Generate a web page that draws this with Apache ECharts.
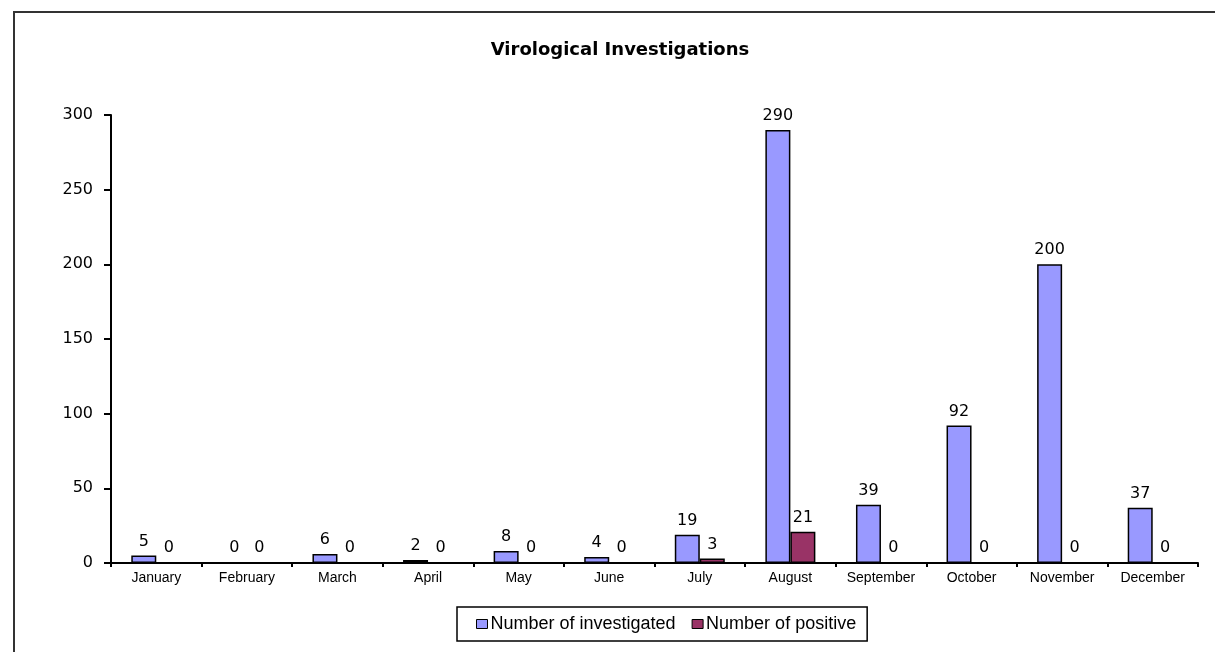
<!DOCTYPE html>
<html>
<head>
<meta charset="utf-8">
<script src="https://cdn.jsdelivr.net/npm/echarts@6/dist/echarts.min.js"></script>
<style>
  html, body { margin: 0; padding: 0; background: #fff; }
  #frame {
    position: absolute; left: 13px; top: 11px;
    width: 1300px; height: 700px;
    border: 2px solid #333;
  }
  #chart { position: absolute; left: 0; top: 0; width: 1215px; height: 652px; }
</style>
</head>
<body>
<div id="frame"></div>
<div id="chart"></div>
<script>
// ---- data ----
const months = ['January', 'February', 'March', 'April', 'May', 'June',
  'July', 'August', 'September', 'October', 'November', 'December']
const investigated = [5, 0, 6, 2, 8, 4, 19, 290, 39, 92, 200, 37]
const positive = [0, 0, 0, 0, 0, 0, 3, 21, 0, 0, 0, 0]
const yTicks = { min: 0, max: 300, step: 50 }

// the picture is a bit stretched sideways, DejaVu is wider than Arial
const WIDE = '"DejaVu Sans", sans-serif'
const ARIAL = '"Liberation Sans", Arial, sans-serif'

const chart = echarts.init(document.getElementById('chart'))

function barSeries(name, data, color) {
  return {
    name,
    type: 'bar',
    data,
    barWidth: 25,
    barGap: '0%',
    itemStyle: { color, borderColor: '#000', borderWidth: 1.5 },
    label: {
      show: true,
      position: 'top',
      distance: 6,
      color: '#000',
      fontFamily: WIDE,
      fontSize: 16,
    },
    animation: false,
  }
}

chart.setOption({
  backgroundColor: 'transparent',
  title: {
    text: 'Virological Investigations',
    left: 615,
    top: 36,
    textAlign: 'center',
    textStyle: { fontFamily: WIDE, fontSize: 18, fontWeight: 'bold', color: '#000' },
  },
  grid: { left: 111, right: 17, top: 115, bottom: 89, containLabel: false },
  legend: {
    left: 457,
    top: 607,
    width: 414,
    padding: [8, 11, 8, 19],
    itemGap: 16,
    itemWidth: 11,
    itemHeight: 9,
    icon: 'rect',
    borderColor: '#000',
    borderWidth: 1.5,
    itemStyle: { borderColor: '#000', borderWidth: 1 },
    textStyle: { fontFamily: ARIAL, fontSize: 18, color: '#000', padding: [0, 0, 0, -2] },
  },
  xAxis: {
    type: 'category',
    data: months,
    axisLine: { lineStyle: { color: '#000', width: 2 } },
    axisTick: { show: true, interval: 0, length: 4, lineStyle: { color: '#000', width: 2 } },
    axisLabel: { interval: 0, color: '#000', fontFamily: ARIAL, fontSize: 14, margin: 8 },
  },
  yAxis: {
    type: 'value',
    min: yTicks.min,
    max: yTicks.max,
    interval: yTicks.step,
    splitLine: { show: false },
    axisLine: { show: true, lineStyle: { color: '#000', width: 2 } },
    axisTick: { show: true, length: 7, lineStyle: { color: '#000', width: 2 } },
    axisLabel: { color: '#000', fontFamily: WIDE, fontSize: 16, margin: 18 },
  },
  series: [
    barSeries('Number of investigated', investigated, '#9999ff'),
    barSeries('Number of positive', positive, '#993366'),
  ],
})
</script>
</body>
</html>
